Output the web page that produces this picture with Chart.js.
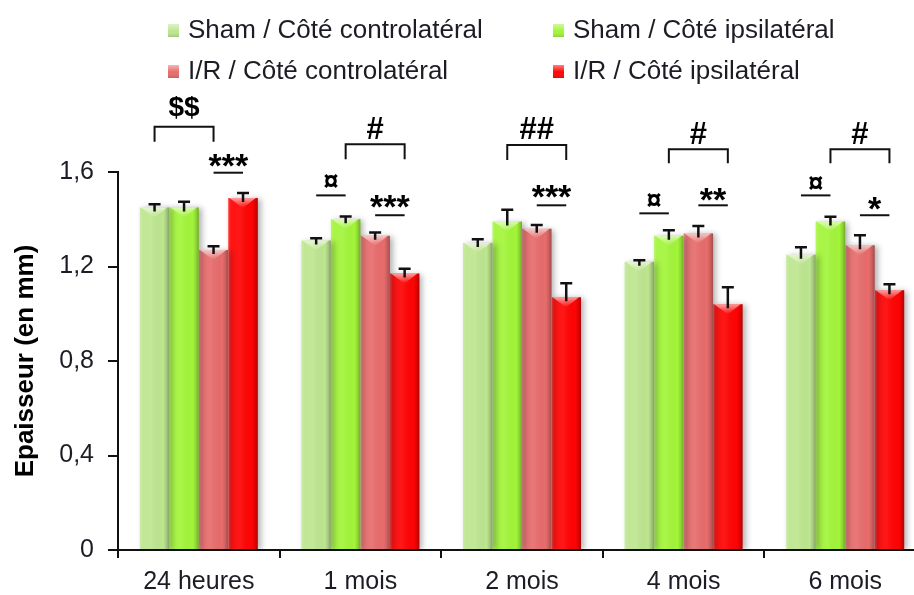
<!DOCTYPE html>
<html>
<head>
<meta charset="utf-8">
<script src="https://cdn.jsdelivr.net/npm/chart.js@4.4.1/dist/chart.umd.min.js"></script>
<style>
  html, body { margin: 0; padding: 0; background: #fff; overflow: hidden; }
</style>
</head>
<body>
<canvas id="epaisseurChart" width="930" height="595"></canvas>
<script>
// périodes après l'opération
const periods = ["24 heures", "1 mois", "2 mois", "4 mois", "6 mois"];

const seriesLabels = [
  "Sham / Côté controlatéral",
  "Sham / Côté ipsilatéral",
  "I/R / Côté controlatéral",
  "I/R / Côté ipsilatéral"
];

// épaisseur moyenne (mm)
const shamContro = [1.45, 1.31, 1.30, 1.22, 1.25];
const shamIpsi   = [1.45, 1.40, 1.39, 1.33, 1.39];
const irContro   = [1.27, 1.33, 1.36, 1.34, 1.29];
const irIpsi     = [1.49, 1.17, 1.07, 1.04, 1.10];

// erreur standard (barre du haut seulement)
const shamControErr = [0.014, 0.010, 0.015, 0.006, 0.031];
const shamIpsiErr   = [0.024, 0.012, 0.050, 0.023, 0.021];
const irControErr   = [0.016, 0.014, 0.016, 0.031, 0.042];
const irIpsiErr     = [0.021, 0.021, 0.059, 0.072, 0.025];

const yTicks = [0, 0.4, 0.8, 1.2, 1.6];

// crochets : [période, série de départ, série d'arrivée, niveau, bas des pattes, texte, niveau du texte]
const brackets = [
  [0, 0, 2, 1.792, 1.728, "$$", 1.872],
  [1, 1, 3, 1.717, 1.654, "#", 1.786],
  [2, 1, 3, 1.714, 1.651, "##", 1.786],
  [3, 1, 3, 1.696, 1.637, "#", 1.765],
  [4, 1, 3, 1.696, 1.637, "#", 1.765]
];

// soulignés : [période, série de départ, série d'arrivée, niveau, texte, niveau du texte]
const underlines = [
  [0, 2, 3, 1.597, "***", 1.650],
  [1, 0, 1, 1.501, "¤", 1.560],
  [1, 2, 3, 1.417, "***", 1.474],
  [2, 2, 3, 1.459, "***", 1.517],
  [3, 0, 1, 1.425, "¤", 1.482],
  [3, 2, 3, 1.459, "**", 1.503],
  [4, 0, 1, 1.501, "¤", 1.553],
  [4, 2, 3, 1.417, "*", 1.467]
];

const colors = ["#bde68f", "#a2f53a", "#e86c6c", "#ff0404"];
const values = [shamContro, shamIpsi, irContro, irIpsi];
const errors = [shamControErr, shamIpsiErr, irControErr, irIpsiErr];

const FONT = "'Liberation Sans', Arial, sans-serif";
const INK = "#1c1c24";

// texte centré sur son encre (et non sur la boîte de la police)
function inkText(ctx, text, x, y) {
  const m = ctx.measureText(text);
  const asc = m.actualBoundingBoxAscent, desc = m.actualBoundingBoxDescent;
  ctx.textAlign = "center";
  ctx.textBaseline = "alphabetic";
  ctx.fillText(text, x, y + (asc - desc) / 2);
}

const decorPlugin = {
  id: "decor",
  beforeDatasetsDraw(chart) {
    const ctx = chart.ctx;
    ctx.save();
    ctx.shadowColor = "rgba(0,0,0,0.3)";
    ctx.shadowBlur = 6;
    ctx.shadowOffsetX = 3;
    ctx.shadowOffsetY = 1;
  },
  afterDatasetsDraw(chart) {
    const ctx = chart.ctx;
    ctx.restore();
    const yScale = chart.scales.y;

    // relief des barres
    chart.data.datasets.forEach((ds, i) => {
      chart.getDatasetMeta(i).data.forEach(bar => {
        const { x, y, base, width } = bar.getProps(["x", "y", "base", "width"], true);
        const left = x - width / 2;
        const g = ctx.createLinearGradient(left, 0, left + width, 0);
        g.addColorStop(0, "rgba(255,255,255,0.22)");
        g.addColorStop(0.1, "rgba(255,255,255,0.06)");
        g.addColorStop(0.4, "rgba(255,255,255,0.08)");
        g.addColorStop(0.8, "rgba(0,0,0,0)");
        g.addColorStop(0.9, "rgba(0,0,0,0.12)");
        g.addColorStop(1, "rgba(0,0,0,0.3)");
        ctx.fillStyle = g;
        ctx.fillRect(left, y, width, base - y);
        // biseau clair en haut
        const t = ctx.createLinearGradient(0, y, 0, y + 10);
        t.addColorStop(0, "rgba(255,255,255,0.6)");
        t.addColorStop(1, "rgba(255,255,255,0)");
        ctx.fillStyle = t;
        ctx.beginPath();
        ctx.moveTo(left + 1, y);
        ctx.lineTo(left + width - 2, y);
        ctx.lineTo(x, y + 10);
        ctx.closePath();
        ctx.fill();
      });
    });

    // barres d'erreur
    ctx.strokeStyle = "#111";
    ctx.lineWidth = 2.5;
    chart.data.datasets.forEach((ds, i) => {
      chart.getDatasetMeta(i).data.forEach((bar, j) => {
        const top = yScale.getPixelForValue(values[i][j] + errors[i][j]);
        const yv = yScale.getPixelForValue(values[i][j]);
        ctx.beginPath();
        ctx.moveTo(bar.x, yv + 4);
        ctx.lineTo(bar.x, top);
        ctx.moveTo(bar.x - 6, top);
        ctx.lineTo(bar.x + 6, top);
        ctx.stroke();
      });
    });

    // significativité
    const px = (g, s) => chart.getDatasetMeta(s).data[g].x;
    const py = v => yScale.getPixelForValue(v);
    ctx.fillStyle = "#000";
    ctx.lineWidth = 2;
    ctx.strokeStyle = "#111";
    brackets.forEach(([g, a, b, level, leg, label, at]) => {
      const x1 = px(g, a), x2 = px(g, b);
      ctx.beginPath();
      ctx.moveTo(x1, py(leg));
      ctx.lineTo(x1, py(level));
      ctx.lineTo(x2, py(level));
      ctx.lineTo(x2, py(leg));
      ctx.stroke();
      ctx.font = (label === "$$" ? "bold 28px " : "bold 31px ") + FONT;
      inkText(ctx, label, (x1 + x2) / 2, py(at));
    });
    underlines.forEach(([g, a, b, level, label, at]) => {
      const x1 = px(g, a), x2 = px(g, b);
      ctx.beginPath();
      ctx.moveTo(x1, py(level));
      ctx.lineTo(x2, py(level));
      ctx.stroke();
      ctx.font = label === "¤" ? "bold 27px " + FONT : "bold 34px " + FONT;
      inkText(ctx, label, (x1 + x2) / 2, py(at));
    });
  },
  afterDraw(chart) {
    // légende sur deux colonnes
    const ctx = chart.ctx;
    const cols = [168, 553];
    const rows = [31, 72];
    chart.data.datasets.forEach((ds, i) => {
      const x = cols[i % 2], y = rows[Math.floor(i / 2)];
      const g = ctx.createLinearGradient(0, y - 7, 0, y + 7);
      g.addColorStop(0, "rgba(255,255,255,0.5)");
      g.addColorStop(0.5, "rgba(255,255,255,0)");
      g.addColorStop(1, "rgba(0,0,0,0.2)");
      ctx.fillStyle = ds.backgroundColor;
      ctx.fillRect(x, y - 7, 11, 13);
      ctx.fillStyle = g;
      ctx.fillRect(x, y - 7, 11, 13);
      ctx.fillStyle = INK;
      ctx.font = "26px " + FONT;
      ctx.textAlign = "left";
      ctx.textBaseline = "middle";
      ctx.fillText(ds.label, x + 20, y);
    });
  }
};

const ctx = document.getElementById("epaisseurChart").getContext("2d");
new Chart(ctx, {
  type: "bar",
  data: {
    labels: periods,
    datasets: values.map((v, i) => ({
      label: seriesLabels[i],
      data: v,
      backgroundColor: colors[i],
      borderWidth: 0,
      barPercentage: 1,
      categoryPercentage: 0.73
    }))
  },
  options: {
    responsive: false,
    animation: false,
    devicePixelRatio: 1,
    layout: { padding: { top: 172, right: 4, left: 0, bottom: 0 } },
    plugins: {
      legend: { display: false },
      tooltip: { enabled: false }
    },
    scales: {
      x: {
        grid: { offset: true, drawOnChartArea: false, tickLength: 8, color: "#111", lineWidth: 2 },
        border: { color: "#111", width: 2 },
        ticks: { color: INK, font: { family: FONT, size: 25 }, padding: 9, maxRotation: 0 },
        afterFit: s => { s.height = 45; }
      },
      y: {
        min: 0,
        max: 1.6,
        afterBuildTicks: s => { s.ticks = yTicks.map(v => ({ value: v })); },
        grid: { drawOnChartArea: false, tickLength: 10, color: "#111", lineWidth: 2 },
        border: { color: "#111", width: 2 },
        ticks: {
          color: INK,
          font: { family: FONT, size: 25 },
          padding: 14,
          callback: v => String(Number(v.toFixed(1))).replace(".", ",")
        },
        title: {
          display: true,
          text: "Epaisseur (en mm)",
          color: "#000",
          font: { family: FONT, size: 26, weight: "bold" },
          padding: { top: 10, bottom: 0 }
        },
        afterFit: s => { s.width = 118; }
      }
    }
  },
  plugins: [decorPlugin]
});
</script>
</body>
</html>
